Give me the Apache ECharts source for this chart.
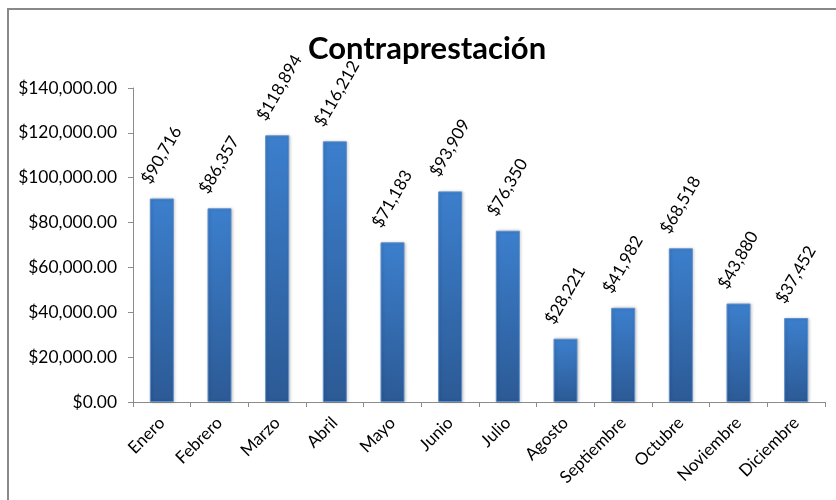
<!DOCTYPE html>
<html>
<head>
<meta charset="utf-8">
<style>
  html, body { margin: 0; padding: 0; background: #ffffff; }
  #chart { width: 836px; height: 500px; }
</style>
<script src="https://cdn.jsdelivr.net/npm/echarts@6/dist/echarts.min.js"></script>
</head>
<body>
<div id="chart"></div>
<script>
// Monthly amounts (Contraprestación), January to December
var months = ['Enero', 'Febrero', 'Marzo', 'Abril', 'Mayo', 'Junio', 'Julio',
              'Agosto', 'Septiembre', 'Octubre', 'Noviembre', 'Diciembre'];
var amounts = [90716, 86357, 118894, 116212, 71183, 93909, 76350,
               28221, 41982, 68518, 43880, 37452];
var chartTitle = 'Contraprestación';
var yMin = 0;
var yMax = 140000;
var yStep = 20000;

var FONT = 'Lato, "Noto Sans", sans-serif';

function money2(v) {
  return '$' + v.toLocaleString('en-US', { minimumFractionDigits: 2, maximumFractionDigits: 2 });
}
function money0(v) {
  return '$' + v.toLocaleString('en-US', { maximumFractionDigits: 0 });
}

var chart = echarts.init(document.getElementById('chart'), null, { renderer: 'canvas' });

chart.setOption({
  animation: false,
  backgroundColor: '#ffffff',
  title: {
    text: chartTitle,
    left: 303,
    top: 28,
    textStyle: { fontFamily: FONT, fontWeight: 'bold', fontSize: 31, color: '#000000' }
  },
  graphic: [{
    type: 'rect',
    shape: { x: 8, y: 9, width: 1000, height: 700 },
    style: { fill: 'none', stroke: '#898989', lineWidth: 2 },
    silent: true,
    z: 100
  }],
  grid: { left: 133, right: 11, top: 88, bottom: 98, containLabel: false },
  xAxis: {
    type: 'category',
    data: months,
    axisLine: { show: true, lineStyle: { color: '#8c8c8c', width: 1 } },
    axisTick: { show: true, alignWithLabel: false, length: 5, lineStyle: { color: '#8c8c8c' } },
    axisLabel: {
      rotate: 45, interval: 0, margin: 18,
      fontFamily: FONT, fontSize: 17, color: '#000000'
    },
    splitLine: { show: false }
  },
  yAxis: {
    type: 'value',
    min: yMin, max: yMax, interval: yStep,
    axisLine: { show: true, lineStyle: { color: '#8c8c8c', width: 1 } },
    axisTick: { show: true, length: 5, inside: false, lineStyle: { color: '#8c8c8c' } },
    axisLabel: {
      margin: 16, fontFamily: FONT, fontSize: 17.4, color: '#000000',
      formatter: function (v) { return money2(v); }
    },
    splitLine: { show: false }
  },
  series: [{
    type: 'bar',
    data: amounts,
    barWidth: 24,
    itemStyle: {
      color: new echarts.graphic.LinearGradient(0, 0, 0, 1, [
        { offset: 0, color: '#3c7fcd' },
        { offset: 1, color: '#2c5a95' }
      ]),
      borderColor: '#5d8fcc',
      borderWidth: 1,
      shadowColor: 'rgba(0,0,0,0.22)',
      shadowBlur: 3,
      shadowOffsetX: 1,
      shadowOffsetY: 0
    },
    label: {
      show: true,
      position: [-4, -16],
      rotate: 60,
      align: 'left',
      verticalAlign: 'middle',
      fontFamily: FONT,
      fontSize: 17,
      color: '#000000',
      formatter: function (p) { return money0(p.value); }
    }
  }]
});
</script>
</body>
</html>
